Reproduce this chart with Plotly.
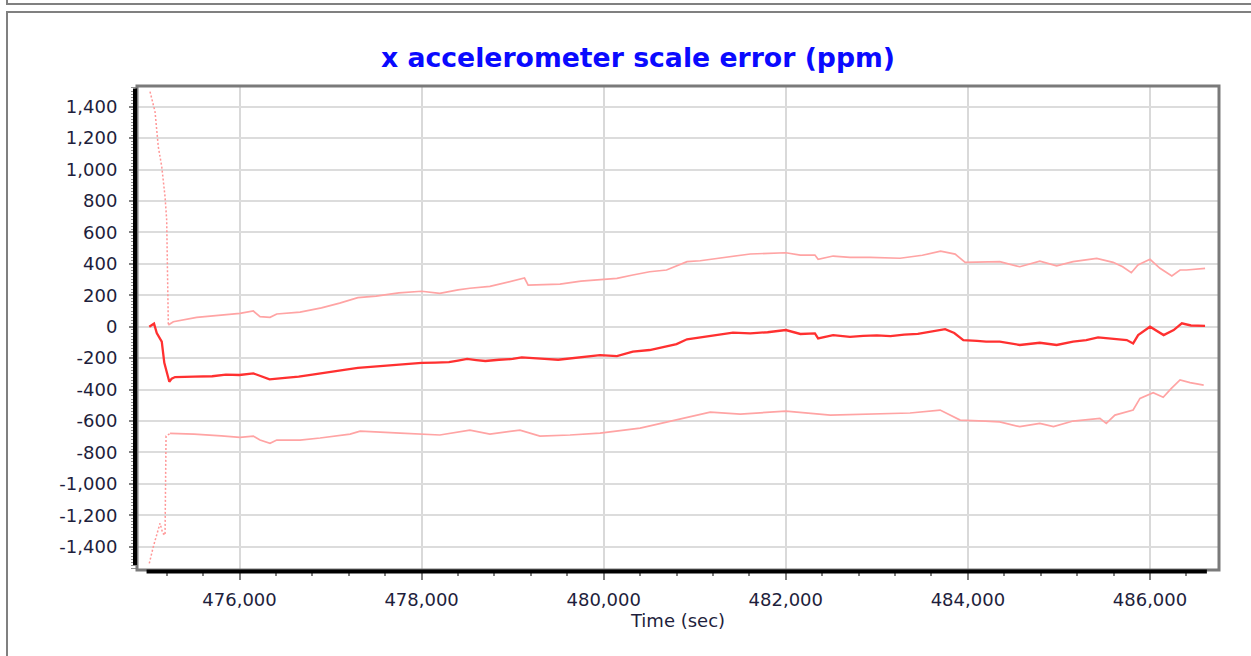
import plotly.graph_objects as go

# ---- data (time in sec, values in ppm) ----
mean_time = [
    475009, 475061, 475091, 475146, 475174, 475200, 475229, 475255, 475292, 475500,
    475700, 475850, 476000, 476152, 476250, 476330, 476500, 476650, 476800, 477000,
    477150, 477300, 477450, 477600, 477800, 478000, 478150, 478300, 478400, 478500,
    478600, 478700, 478850, 479000, 479100, 479200, 479350, 479500, 479650, 479800,
    479960, 480145, 480320, 480505, 480690, 480800, 480915, 481060, 481250, 481420,
    481610, 481800, 482000, 482160, 482320, 482355, 482520, 482705, 482850, 483000,
    483150, 483300, 483450, 483600, 483750, 483850, 483950, 484100, 484200, 484350,
    484570, 484790, 484975, 485155, 485300, 485430, 485615, 485745, 485815, 485870,
    486000, 486150, 486260, 486350, 486450, 486605,
]
mean_ppm = [
    0, 20, -40, -95, -230, -285, -350, -330, -320, -318,
    -315, -305, -307, -297, -320, -335, -325, -318, -305, -290,
    -275, -262, -255, -245, -238, -230, -228, -225, -215, -205,
    -212, -218, -210, -205, -195, -200, -205, -210, -200, -190,
    -180, -187, -159, -148, -127, -110, -80, -68, -52, -38,
    -42, -35, -21, -46, -42, -74, -53, -64, -58, -55,
    -60, -50, -45, -30, -15, -40, -85, -90, -95, -95,
    -116, -102, -116, -95, -85, -68, -80, -85, -106, -53,
    0, -53, -21, 22, 8, 6,
]

upper_time = [
    475017, 475072, 475108, 475146, 475182, 475200, 475218, 475273, 475530, 475786,
    476005, 476152, 476225, 476335, 476409, 476665, 476900, 477100, 477300, 477500,
    477750, 478000, 478200, 478400, 478530, 478750, 478970, 479130, 479170, 479520,
    479750, 479960, 480145, 480320, 480505, 480690, 480915, 481060, 481250, 481420,
    481610, 482000, 482160, 482320, 482355, 482520, 482705, 482925, 483255, 483500,
    483700, 483860, 483970, 484350, 484570, 484790, 484975, 485155, 485415, 485595,
    485700, 485795, 485868, 486000, 486110, 486240, 486330, 486400, 486605,
]
upper_ppm = [
    1496, 1368, 1145, 1018, 827, 679, 11, 32, 60, 74,
    85, 100, 64, 60, 81, 93, 120, 150, 185, 195,
    215, 226, 213, 235, 245, 257, 290, 310, 265, 271,
    290, 302, 308, 329, 350, 361, 414, 420, 435, 450,
    463, 471, 456, 456, 429, 450, 442, 442, 436, 455,
    481, 462, 410, 414, 382, 418, 388, 414, 435, 410,
    382, 344, 393, 429, 372, 323, 361, 361, 372,
]

lower_time = [
    475009, 475053, 475127, 475157, 475182, 475193, 475237, 475500, 475800, 476005,
    476152, 476225, 476335, 476409, 476665, 476885, 477215, 477325, 477765, 478200,
    478530, 478750, 479080, 479300, 479630, 479960, 480400, 480840, 481170, 481500,
    482000, 482490, 482925, 483365, 483695, 483915, 484190, 484350, 484570, 484790,
    484940, 485155, 485450, 485520, 485615, 485815, 485890, 486035, 486145, 486235,
    486330, 486440, 486590,
]
lower_ppm = [
    -1506, -1400, -1251, -1315, -1326, -696, -679, -683, -695, -704,
    -696, -721, -742, -721, -721, -708, -683, -664, -677, -689,
    -658, -683, -658, -696, -689, -677, -645, -588, -543, -556,
    -537, -562, -556, -549, -530, -594, -600, -605, -636, -615,
    -636, -600, -583, -615, -562, -530, -456, -420, -449, -392,
    -339, -356, -371,
]

x_tick_vals = [476000, 478000, 480000, 482000, 484000, 486000]
x_tick_text = ["476,000", "478,000", "480,000", "482,000", "484,000", "486,000"]
y_tick_vals = [-1400, -1200, -1000, -800, -600, -400, -200, 0,
               200, 400, 600, 800, 1000, 1200, 1400]
y_tick_text = ["-1,400", "-1,200", "-1,000", "-800", "-600", "-400", "-200", "0",
               "200", "400", "600", "800", "1,000", "1,200", "1,400"]

# ---- layout geometry (pixels) ----
W, H = 1251, 656
PL, PR, PT, PB = 137, 1219, 86, 570
SETTLE = 7  # index where the bounds stop falling/rising steeply


def px(x):
    return (x - PL) / (PR - PL)


def py(y):
    return (PB - y) / (PB - PT)


FONT = "DejaVu Sans"
TEXT = "#1e1e3c"
BOUND = "#ffa4a4"

fig = go.Figure()
for t, v in ((upper_time, upper_ppm), (lower_time, lower_ppm)):
    fig.add_trace(go.Scatter(x=t[:SETTLE], y=v[:SETTLE], mode="lines",
                             line=dict(color="#ff9696", width=1.5, dash="2px,2px")))
    fig.add_trace(go.Scatter(x=t[SETTLE - 1:], y=v[SETTLE - 1:], mode="lines",
                             line=dict(color=BOUND, width=1.7)))
fig.add_trace(go.Scatter(x=mean_time, y=mean_ppm, mode="lines", name="estimate",
                         line=dict(color="#ff3030", width=2.3)))

shapes = [
    # outer panels
    dict(type="path", xref="paper", yref="paper", line=dict(color="#808080", width=2),
         path=f"M {px(7)},{py(-10)} L {px(7)},{py(4)} L {px(1300)},{py(4)}"),
    dict(type="rect", xref="paper", yref="paper", line=dict(color="#808080", width=2),
         x0=px(7), x1=px(1300), y0=py(700), y1=py(12)),
    # plot frame
    dict(type="rect", xref="paper", yref="paper", line=dict(color="#7a7a7a", width=3),
         x0=0, x1=1, y0=0, y1=1, layer="above"),
    # black axis lines spanning the data extent
    dict(type="line", xref="paper", yref="y", line=dict(color="black", width=4),
         x0=px(135), x1=px(135), y0=min(lower_ppm) - 10, y1=max(upper_ppm) + 20,
         layer="above"),
    dict(type="line", xref="x", yref="paper", line=dict(color="black", width=4),
         x0=min(mean_time) - 30, x1=max(mean_time) + 20, y0=py(571.5), y1=py(571.5),
         layer="above"),
]

fig.update_layout(
    width=W, height=H,
    margin=dict(l=PL, r=W - PR, t=PT, b=H - PB),
    paper_bgcolor="white", plot_bgcolor="white",
    showlegend=False,
    font=dict(family=FONT, size=18, color=TEXT),
    title=dict(text="<b>x accelerometer scale error (ppm)</b>",
               font=dict(family=FONT, size=26.7, color="#0a0aff"),
               x=638 / W, xanchor="center", y=1 - 58 / H, yanchor="middle"),
    shapes=shapes,
)
fig.update_xaxes(
    range=[474874, 486758],
    tickmode="array", tickvals=x_tick_vals, ticktext=x_tick_text,
    showgrid=True, gridcolor="#d9d9d9", gridwidth=2,
    zeroline=False, showline=False,
    ticks="outside", ticklen=9, tickwidth=1.5, tickcolor="#808080",
    ticklabelstandoff=4,
    minor=dict(dtick=400, tick0=476000, ticks="outside", ticklen=5,
               tickcolor="#808080", tickwidth=1.5, showgrid=False),
    title=dict(text="Time (sec)", font=dict(size=18, color=TEXT), standoff=4),
)
fig.update_yaxes(
    range=[-1548, 1532],
    tickmode="array", tickvals=y_tick_vals, ticktext=y_tick_text,
    showgrid=True, gridcolor="#dcdcdc", gridwidth=2,
    zeroline=False, showline=False,
    ticks="outside", ticklen=7, tickwidth=1.5, tickcolor="#808080",
    ticklabelstandoff=8,
    minor=dict(dtick=20, tick0=0, ticks="outside", ticklen=5,
               tickcolor="#909090", tickwidth=1, showgrid=False),
)

fig.write_html("out.html", config={"displayModeBar": False},
               post_script="document.body.style.margin='0';")
